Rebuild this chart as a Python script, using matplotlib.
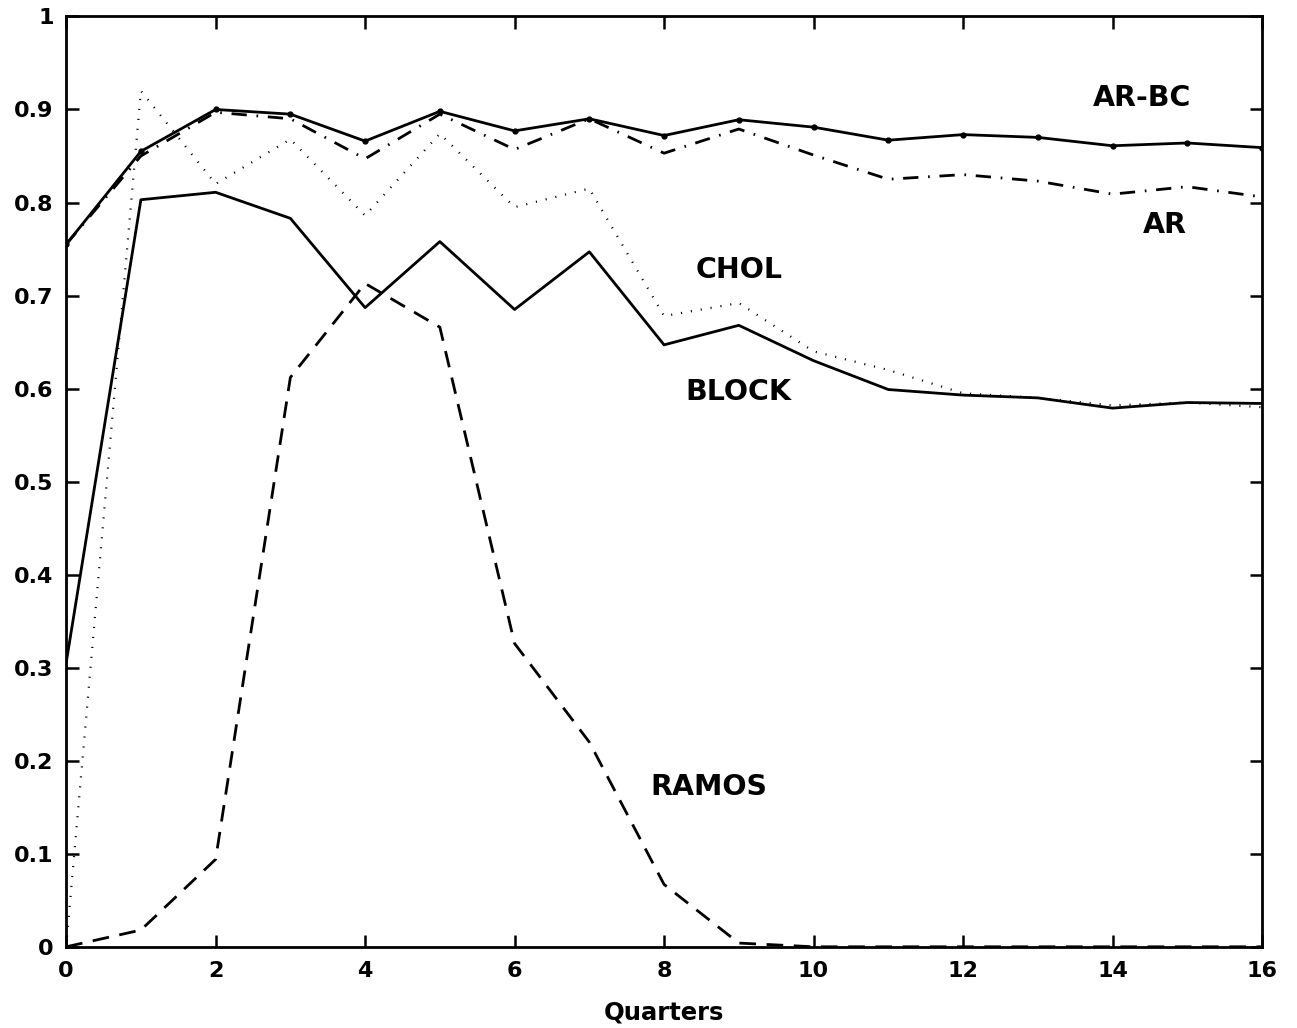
import matplotlib
matplotlib.use("Agg")
import matplotlib.pyplot as plt
import numpy as np

quarters = list(range(17))

ar_bc = [0.755, 0.855, 0.900, 0.895, 0.866, 0.898, 0.877, 0.890, 0.872, 0.889,
         0.881, 0.867, 0.873, 0.870, 0.861, 0.864, 0.859]
ar = [0.755, 0.850, 0.897, 0.890, 0.847, 0.895, 0.857, 0.890, 0.853, 0.879,
      0.851, 0.825, 0.830, 0.823, 0.809, 0.817, 0.806]
chol = [0.0, 0.920, 0.820, 0.868, 0.786, 0.874, 0.795, 0.815, 0.678, 0.692,
        0.640, 0.620, 0.595, 0.590, 0.582, 0.585, 0.580]
block = [0.305, 0.803, 0.811, 0.783, 0.687, 0.758, 0.685, 0.747, 0.647, 0.668,
         0.630, 0.599, 0.593, 0.590, 0.579, 0.585, 0.584]
ramos = [0.0, 0.018, 0.094, 0.612, 0.713, 0.666, 0.326, 0.220, 0.067, 0.004,
         0.0, 0.0, 0.0, 0.0, 0.0, 0.0, 0.0]

labels = ["AR-BC", "AR", "CHOL", "BLOCK", "RAMOS"]
label_pos = [(14.4, 0.912), (14.7, 0.776), (9.0, 0.728), (9.0, 0.596), (8.6, 0.172)]

xticks = list(range(0, 17, 2))
yticks = [0, 0.1, 0.2, 0.3, 0.4, 0.5, 0.6, 0.7, 0.8, 0.9, 1]
yticklabels = ["0", "0.1", "0.2", "0.3", "0.4", "0.5", "0.6", "0.7", "0.8", "0.9", "1"]

plt.rcParams['font.family'] = ['DejaVu Sans']
plt.rcParams['font.weight'] = 'bold'

fig = plt.figure(figsize=(12.97, 10.28), dpi=100)
ax = fig.add_axes([0.051, 0.079, 0.922, 0.905])

ax.plot(quarters, ar_bc, color='black', lw=2.0, marker='o', markersize=3.5)
ax.plot(quarters, ar, color='black', lw=2.0, linestyle=(0, (5.5, 3.5, 0.6, 3.5)))
ax.plot(quarters, chol, color='black', lw=1.6, linestyle=(0, (0.5, 4.0)))
ax.plot(quarters, block, color='black', lw=2.0)
ax.plot(quarters, ramos, color='black', lw=2.0, linestyle=(0, (6.0, 3.8)))

for lab, (lx, ly) in zip(labels, label_pos):
    ax.text(lx, ly, lab, fontsize=20.5, fontweight='bold', ha='center', va='center')

ax.set_xlim(0, 16)
ax.set_ylim(0, 1)
ax.set_xticks(xticks)
ax.set_xticklabels([str(t) for t in xticks])
ax.set_yticks(yticks)
ax.set_yticklabels(yticklabels)
ax.tick_params(direction='in', length=9, width=1.8, labelsize=16,
               top=True, right=True)
ax.tick_params(axis='x', pad=10)
ax.tick_params(axis='y', pad=9)
for lbl in ax.get_xticklabels() + ax.get_yticklabels():
    lbl.set_fontweight('bold')
for sp in ax.spines.values():
    sp.set_linewidth(2.0)

ax.set_xlabel("Quarters", fontsize=17.5, fontweight='bold', labelpad=14)

fig.savefig("out.png", dpi=100)
